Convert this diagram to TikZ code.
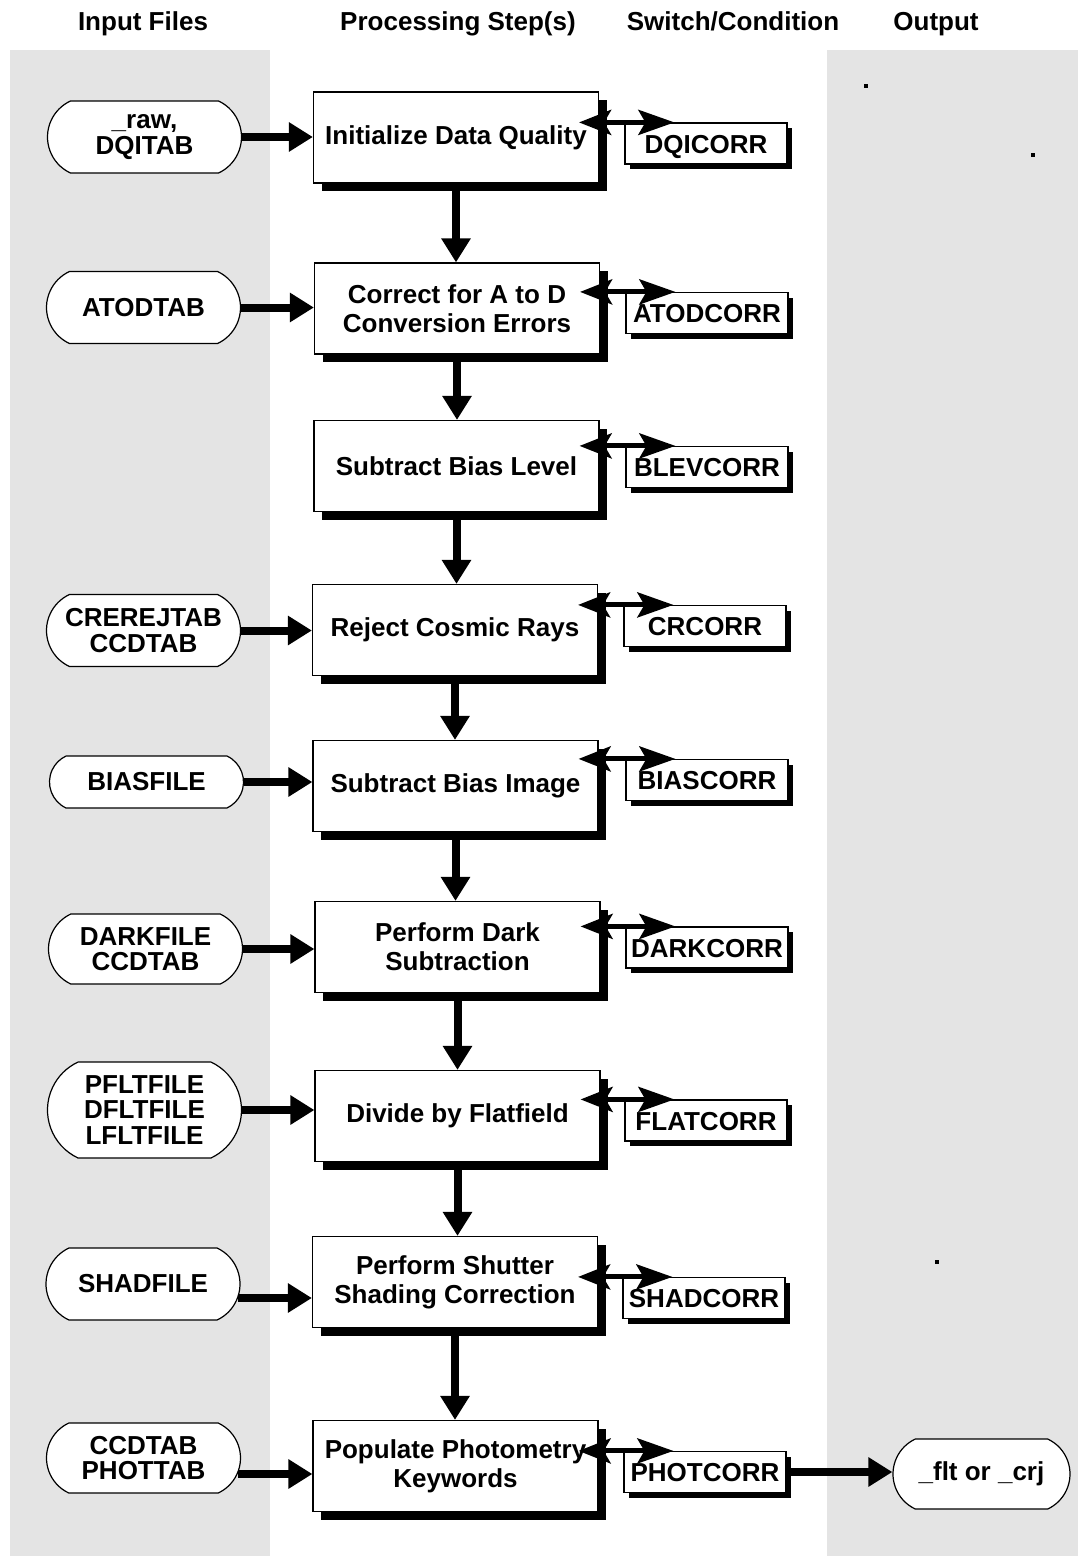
\documentclass[tikz,border=0pt]{standalone}
\usepackage{fontspec}
\setmainfont{Liberation Sans}
\usetikzlibrary{arrows.meta,shapes.misc,shadows,calc}
\definecolor{panelgrey}{RGB}{228,228,228}

\begin{document}
\begin{tikzpicture}[x=1pt,y=-1pt,
  font=\fontsize{26}{29}\selectfont\bfseries,
  proc/.style={draw, line width=1.2pt, fill=white, minimum width=285pt,
    minimum height=91pt, inner sep=0pt, align=center,
    drop shadow={shadow xshift=8pt, shadow yshift=-8pt, fill=black, opacity=1}},
  switchbox/.style={draw, line width=1.2pt, fill=white, minimum width=162pt,
    minimum height=41pt, inner sep=0pt, text depth=0pt, text height=19pt,
    drop shadow={shadow xshift=5pt, shadow yshift=-5pt, fill=black, opacity=1}},
  term/.style={draw, line width=1.2pt, fill=white, rounded rectangle,
    rounded rectangle arc length=130, minimum width=194pt, minimum height=72pt,
    inner sep=0pt, align=center, font=\fontsize{26}{25.5}\selectfont\bfseries},
  flow/.style={line width=8pt, -{Triangle[length=24pt,width=28pt]}},
  dbl/.style={line width=5pt,
    {Stealth[length=32pt,width=25pt,inset=7pt]}-{Stealth[length=36pt,width=25pt,inset=7pt]}},
  header/.style={anchor=base, font=\fontsize{26}{29}\selectfont\bfseries}
]
\useasboundingbox (0,0) rectangle (1078,1556);
\fill[white] (0,0) rectangle (1078,1556);

% column panels
\fill[panelgrey] (10,50) rectangle (270,1556);
\fill[panelgrey] (827,50) rectangle (1078,1556);

% column headings
\node[header] (hIn)  at (143,30) {Input Files};
\node[header] (hPro) at (458,30) {Processing Step(s)};
\node[header] (hSw)  at (733,30) {Switch/Condition};
\node[header] (hOut) at (936,30) {Output};

% stray marks in the output column
\fill (864,84) rectangle (868,88);
\fill (1031,153) rectangle (1035,157);
\fill (935,1260) rectangle (939,1264);

% processing steps
\node[proc] (p1) at (456,137.5)  {Initialize Data Quality};
\node[proc] (p2) at (457,308.5)  {Correct for A to D\\Conversion Errors};
\node[proc] (p3) at (456.5,466)  {Subtract Bias Level};
\node[proc] (p4) at (455,630)    {Reject Cosmic Rays};
\node[proc] (p5) at (455.5,786)  {Subtract Bias Image};
\node[proc] (p6) at (457.5,947)  {Perform Dark\\Subtraction};
\node[proc] (p7) at (457.5,1116) {Divide by Flatfield};
\node[proc] (p8) at (455,1282)   {Perform Shutter\\Shading Correction};
\node[proc] (p9) at (455.5,1466) {Populate Photometry\\Keywords};

% switches
\node[switchbox] (s1) at (706,143.5)  {DQICORR};
\node[switchbox] (s2) at (707,313)    {ATODCORR};
\node[switchbox] (s3) at (707,467)    {BLEVCORR};
\node[switchbox] (s4) at (705,626)    {CRCORR};
\node[switchbox] (s5) at (707,780)    {BIASCORR};
\node[switchbox] (s6) at (707,947.5)  {DARKCORR};
\node[switchbox] (s7) at (706,1120.5) {FLATCORR};
\node[switchbox] (s8) at (704,1298)   {SHADCORR};
\node[switchbox] (s9) at (705,1472)   {PHOTCORR};

% input files
\node[term] (t1) at (144.5,137)  {\_raw,\\DQITAB};
\node[term] (t2) at (143.5,307.5) {ATODTAB};
\node[term] (t4) at (143.5,630.5) {CREREJTAB\\CCDTAB};
\node[term, minimum height=52pt] (t5) at (146.5,782) {BIASFILE};
\node[term, minimum height=70pt] (t6) at (145.5,949) {DARKFILE\\CCDTAB};
\node[term, minimum height=96pt] (t7) at (144.5,1110) {PFLTFILE\\DFLTFILE\\LFLTFILE};
\node[term] (t8) at (143,1284) {SHADFILE};
\node[term, minimum height=70pt] (t9) at (143.5,1458) {CCDTAB\\PHOTTAB};

% output file
\node[term, minimum width=177pt, minimum height=70pt] (out) at (981.5,1474) {\_flt or \_crj};

% inputs into the steps
\draw[flow] (t1.east) -- (t1.east -| p1.west);
\draw[flow] (t2.east) -- (t2.east -| p2.west);
\draw[flow] (t4.east) -- (t4.east -| p4.west);
\draw[flow] (t5.east) -- (t5.east -| p5.west);
\draw[flow] (t6.east) -- (t6.east -| p6.west);
\draw[flow] (t7.east) -- (t7.east -| p7.west);
\draw[flow, shorten <=-3pt] ([yshift=-14pt]t8.east) -- ([yshift=-14pt]t8.east -| p8.west);
\draw[flow, shorten <=-3pt] ([yshift=-16pt]t9.east) -- ([yshift=-16pt]t9.east -| p9.west);

% step to step
\draw[flow] (p1.south) -- (p1.south |- p2.north);
\draw[flow] (p2.south) -- (p2.south |- p3.north);
\draw[flow] (p3.south) -- (p3.south |- p4.north);
\draw[flow] (p4.south) -- (p4.south |- p5.north);
\draw[flow] (p5.south) -- (p5.south |- p6.north);
\draw[flow] (p6.south) -- (p6.south |- p7.north);
\draw[flow] (p7.south) -- (p7.south |- p8.north);
\draw[flow] (p8.south) -- (p8.south |- p9.north);

% step <-> switch
\foreach \i in {1,...,9}{
  \draw[dbl] ($(p\i.east |- s\i.north)+(-20,0)$) -- ($(s\i.north west)+(50,0)$);
}

% final product
\draw[flow] (s9.east) -- (s9.east -| out.west);
\end{tikzpicture}
\end{document}
